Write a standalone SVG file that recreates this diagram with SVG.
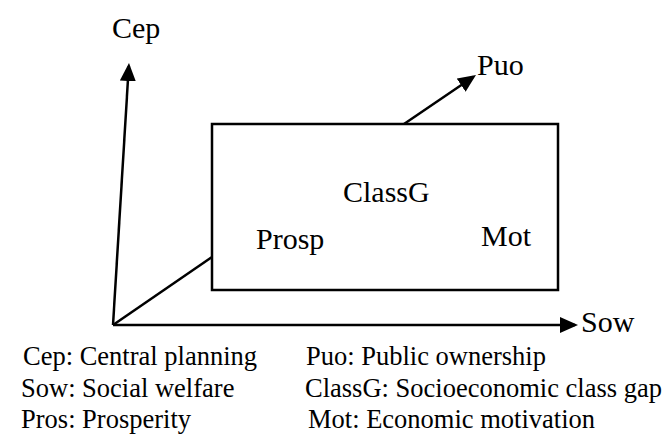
<svg xmlns="http://www.w3.org/2000/svg" width="666" height="440" viewBox="0 0 666 440">
  <style>
    .ln { stroke: #000; stroke-width: 2.5; fill: none; }
    .lbl { font-size: 30px; fill: #000; }
    .key { font-size: 26.5px; fill: #000; }
  </style>
  <defs>
    <marker id="head" markerUnits="userSpaceOnUse" markerWidth="20" markerHeight="18" refX="15" refY="8" orient="auto">
      <path d="M0,0 L18,8 L0,16 Z" fill="#000"/>
    </marker>
  </defs>

  <rect width="666" height="440" fill="#fff"/>

  <g font-family="Liberation Serif, Tinos, Times New Roman, DejaVu Serif, serif">
    <!-- central box -->
    <g id="box">
      <rect class="ln" x="212" y="124" width="346" height="166"/>
      <text class="lbl" x="343" y="202">ClassG</text>
      <text class="lbl" x="256" y="249">Prosp</text>
      <text class="lbl" x="481" y="246">Mot</text>
    </g>

    <!-- axes and links -->
    <g id="connectors">
      <line class="ln" x1="113" y1="325" x2="128.8" y2="66" marker-end="url(#head)"/>
      <line class="ln" x1="113" y1="325" x2="575" y2="325" marker-end="url(#head)"/>
      <line class="ln" x1="113" y1="325" x2="212" y2="257"/>
      <line class="ln" x1="404" y1="124" x2="473.5" y2="76.7" marker-end="url(#head)"/>
    </g>

    <g id="cep"><text class="lbl" x="112" y="38">Cep</text></g>
    <g id="puo"><text class="lbl" x="477" y="75">Puo</text></g>
    <g id="sow"><text class="lbl" x="581" y="332">Sow</text></g>

    <!-- legend -->
    <g id="legend">
      <text class="key" x="23" y="365">Cep: Central planning</text>
      <text class="key" x="21" y="397">Sow: Social welfare</text>
      <text class="key" x="21" y="428">Pros: Prosperity</text>
      <text class="key" x="306" y="365">Puo: Public ownership</text>
      <text class="key" x="305" y="397">ClassG: Socioeconomic class gap</text>
      <text class="key" x="308" y="428">Mot: Economic motivation</text>
    </g>
  </g>
</svg>
